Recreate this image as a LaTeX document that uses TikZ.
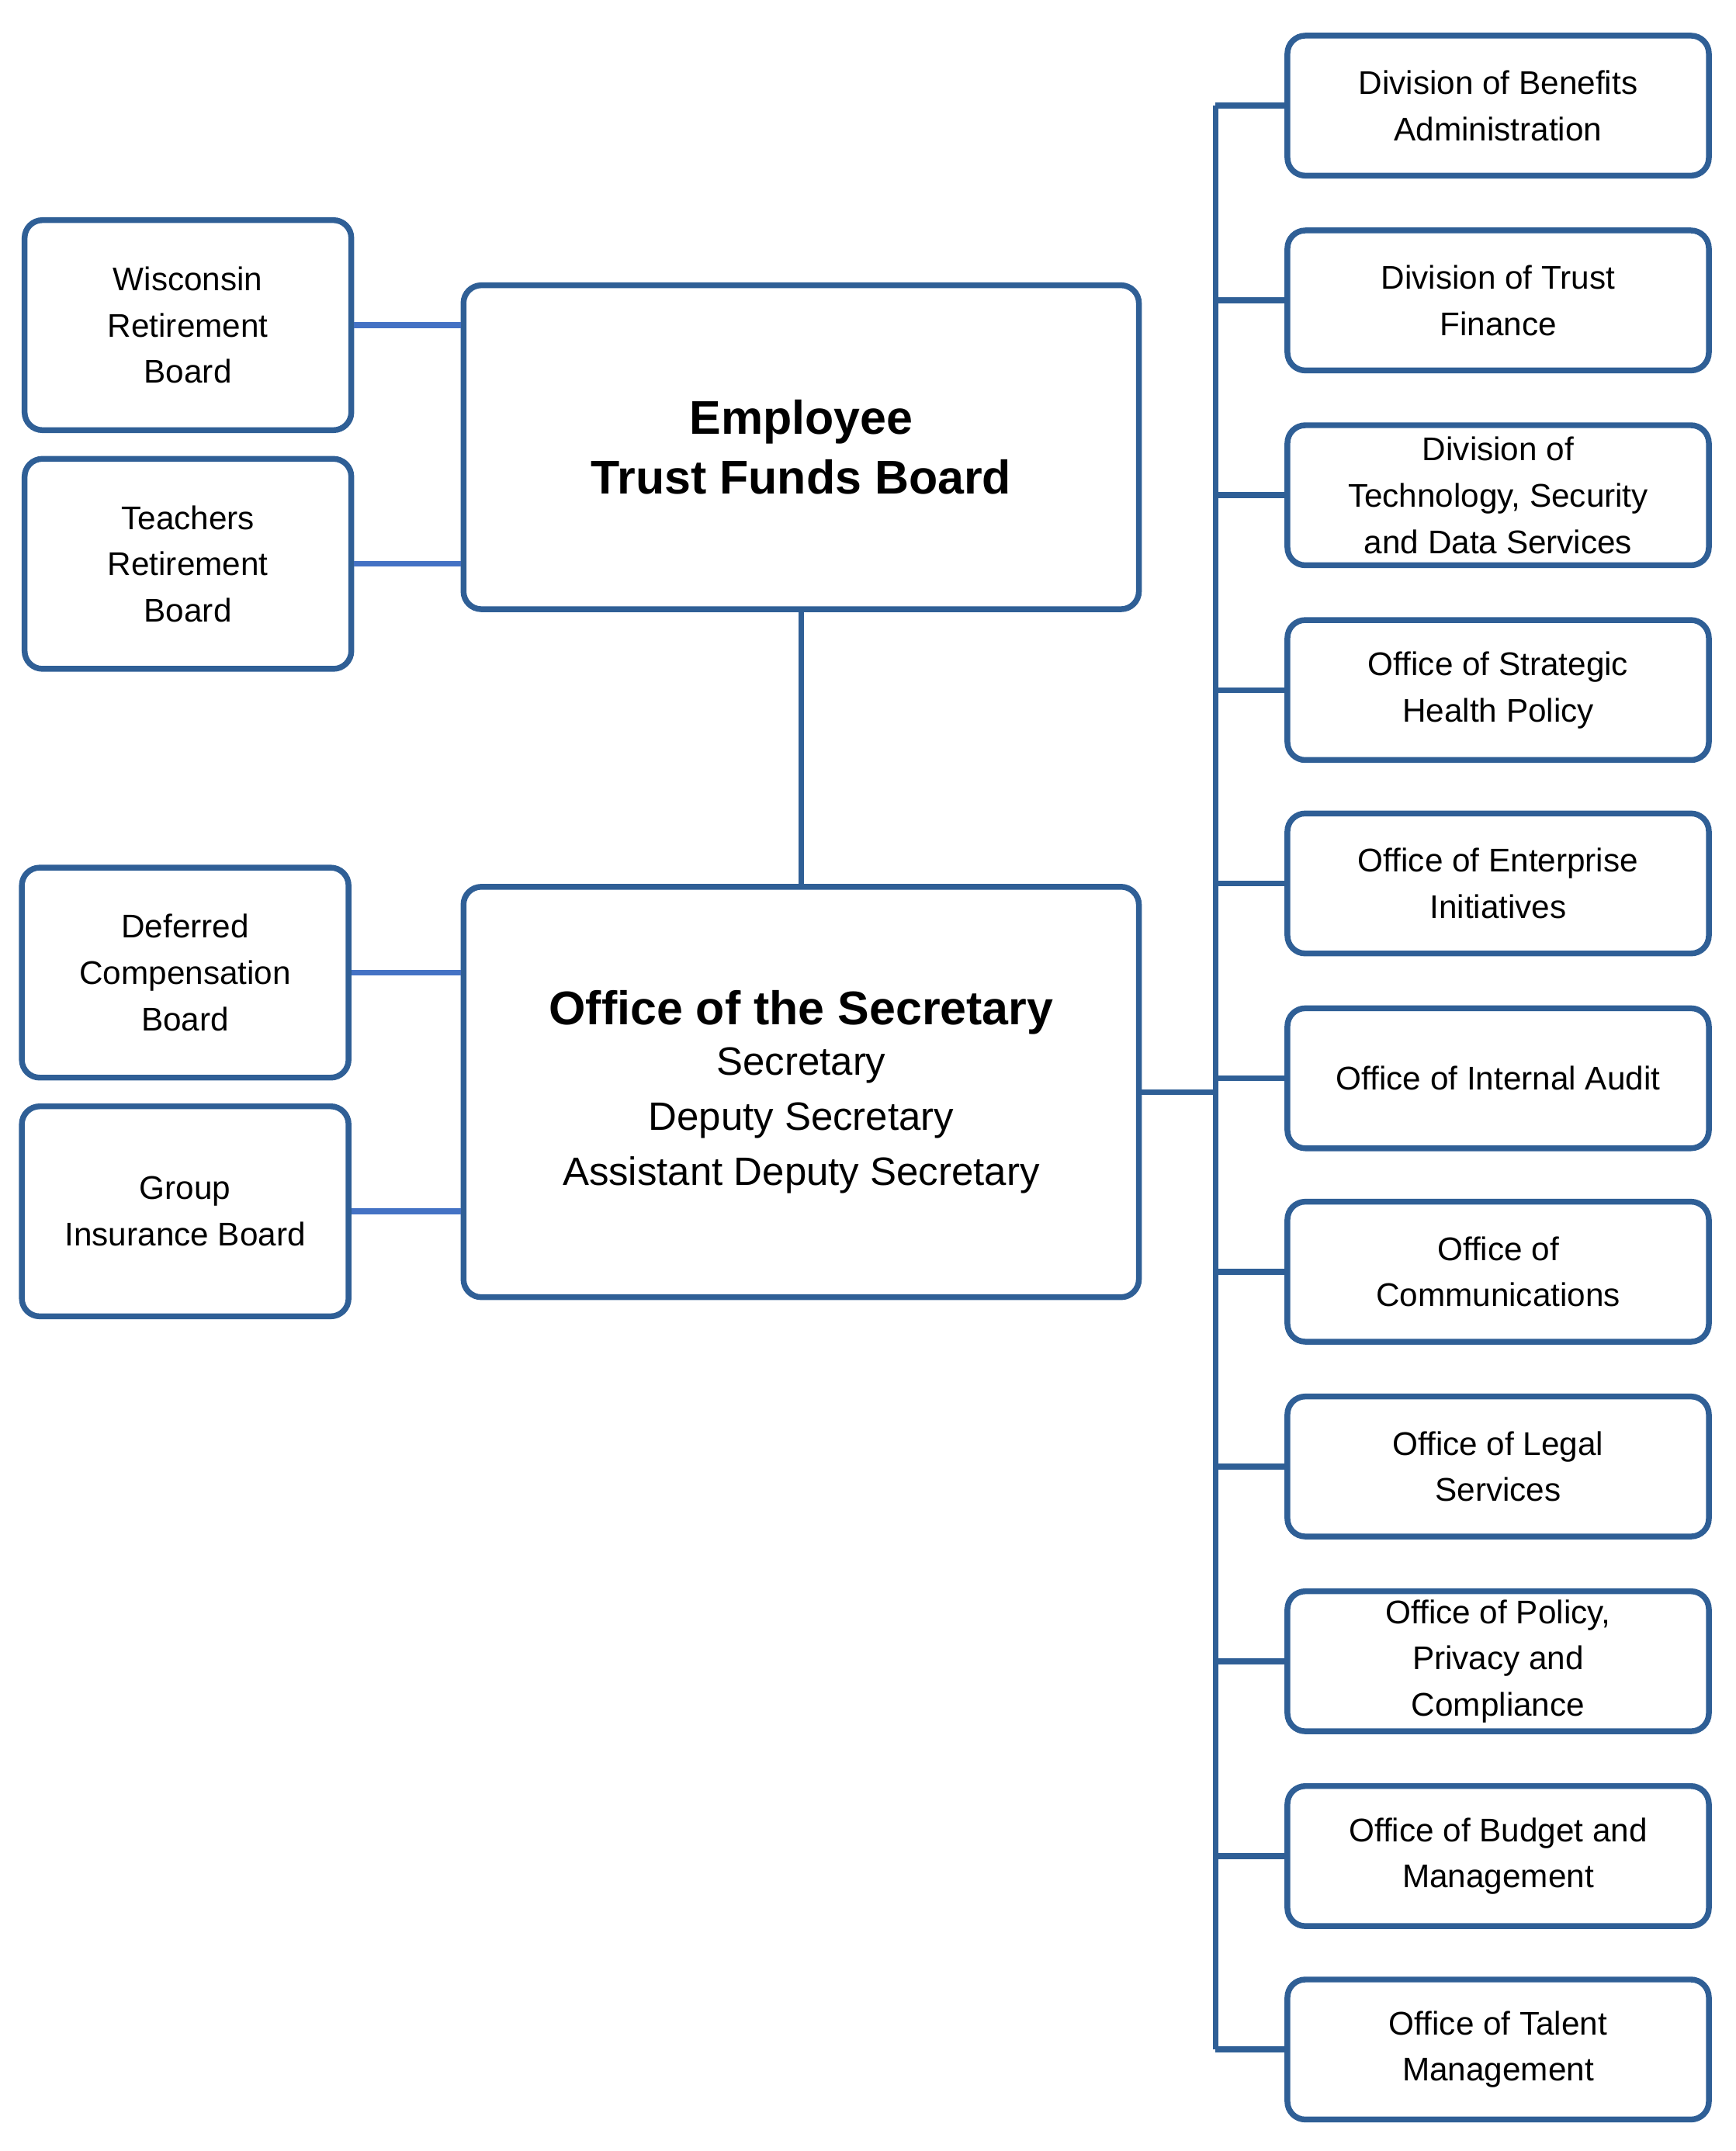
\documentclass[tikz,border=0pt]{standalone}
\usepackage{fontspec}
\setmainfont{Liberation Sans}
\usetikzlibrary{positioning}
\definecolor{boxblue}{HTML}{2F5F96}
\definecolor{linkblue}{HTML}{4472C4}
\tikzset{
    orgbox/.style={draw=boxblue, line width=1.2pt, rounded corners=1.3mm,
        align=center, inner sep=0pt, font=\fontsize{6.8}{9.6}\selectfont},
    sidebox/.style={orgbox, minimum width=2.38cm, minimum height=1.53cm},
    unitbox/.style={orgbox, minimum width=3.07cm, minimum height=1.02cm},
    trunk/.style={boxblue, line width=1.2pt},
    link/.style={linkblue, line width=1.2pt},
}
\begin{document}
\begin{tikzpicture}[x=0.01cm,y=-0.01cm]
\useasboundingbox (0,0) rectangle (1265,1568);

% boards
\node[orgbox, minimum width=4.92cm, minimum height=2.36cm,
    font=\fontsize{9.8}{12.4}\selectfont\bfseries] (etf) at (584,326) {Employee\\Trust Funds Board};
\node[orgbox, minimum width=4.92cm, minimum height=2.99cm,
    font=\fontsize{8.2}{11.4}\selectfont] (sec) at (584,796)
    {\fontsize{9.8}{12}\selectfont\bfseries Office of the Secretary\\[-1pt]
     Secretary\\Deputy Secretary\\Assistant Deputy Secretary};

\node[sidebox] (wrb) at (137,237) {Wisconsin\\Retirement\\Board};
\node[sidebox] (trb) at (137,411) {Teachers\\Retirement\\Board};
\node[sidebox] (dcb) at (135,709) {Deferred\\Compensation\\Board};
\node[sidebox] (gib) at (135,883) {Group\\Insurance Board};

\draw[trunk] (etf) -- (sec);
\draw[link] (wrb.east) -- (wrb.east -| etf.west);
\draw[link] (trb.east) -- (trb.east -| etf.west);
\draw[link] (dcb.east) -- (dcb.east -| sec.west);
\draw[link] (gib.east) -- (gib.east -| sec.west);

% units on the right
\foreach \y/\name/\txt in {
    77/u1/{Division of Benefits\\Administration},
    219/u2/{Division of Trust\\Finance},
    361/u3/{Division of\\Technology, Security\\and Data Services},
    503/u4/{Office of Strategic\\Health Policy},
    644/u5/{Office of Enterprise\\Initiatives},
    786/u6/{Office of Internal Audit},
    927/u7/{Office of\\Communications},
    1069/u8/{Office of Legal\\Services},
    1211/u9/{Office of Policy,\\Privacy and\\Compliance},
    1353/u10/{Office of Budget and\\Management},
    1494/u11/{Office of Talent\\Management}}
{
    \node[unitbox] (\name) at (1092,\y) {\txt};
    \coordinate (j\name) at (886,\y);
    \draw[trunk] (j\name) -- (\name.west);
}
\draw[trunk] (ju1) -- (ju11);
\draw[trunk] (sec.east) -- (sec.east -| ju1);
\end{tikzpicture}
\end{document}
